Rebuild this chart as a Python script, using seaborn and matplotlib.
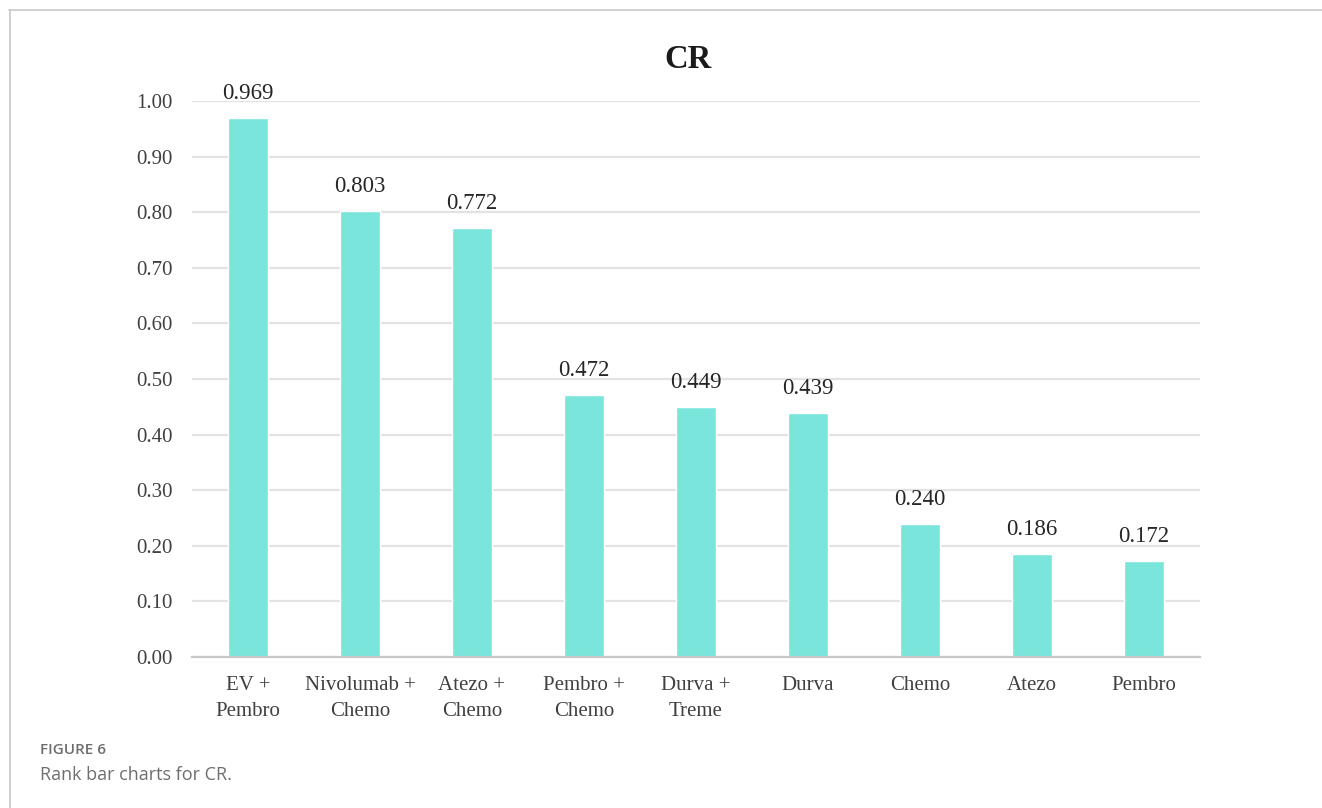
import matplotlib
matplotlib.use("Agg")
import matplotlib.pyplot as plt
import seaborn as sns
import pandas as pd
from matplotlib.lines import Line2D

# Treatment ranking values for complete response (CR)
treatments = ["EV +\nPembro", "Nivolumab +\nChemo", "Atezo +\nChemo", "Pembro +\nChemo",
              "Durva +\nTreme", "Durva", "Chemo", "Atezo", "Pembro"]
cr_values = [0.969, 0.803, 0.772, 0.472, 0.449, 0.439, 0.240, 0.186, 0.172]
y_ticks = [0.0, 0.1, 0.2, 0.3, 0.4, 0.5, 0.6, 0.7, 0.8, 0.9, 1.0]

df = pd.DataFrame({"treatment": treatments, "cr": cr_values})

sns.set_theme(style="white")
plt.rcParams["font.family"] = ["Liberation Serif", "DejaVu Serif"]

W, H = 1322, 808
fig = plt.figure(figsize=(W / 100, H / 100), dpi=100)
ax = fig.add_axes([192 / W, 1 - 657 / H, (1200 - 192) / W, (657 - 101) / H])

bar_color = "#7AE6DB"
sns.barplot(data=df, x="treatment", y="cr", color=bar_color, width=0.36,
            saturation=1, ax=ax, zorder=3)

ax.set_ylim(0, 1.0)
ax.set_xlim(-0.5, len(treatments) - 0.5)
ax.set_yticks(y_ticks)
ax.set_yticklabels([f"{v:.2f}" for v in y_ticks])
ax.yaxis.grid(True, color="#E3E3E3", linewidth=1.6, zorder=0)
ax.set_axisbelow(True)
ax.set_xlabel("")
ax.set_ylabel("")
for side in ["top", "right", "left"]:
    ax.spines[side].set_visible(False)
ax.spines["bottom"].set_color("#C8C8C8")
ax.spines["bottom"].set_linewidth(1.6)
ax.spines["bottom"].set_zorder(4)
ax.tick_params(axis="both", length=0, labelcolor="#404040")
ax.tick_params(axis="y", pad=14, labelsize=15)
ax.tick_params(axis="x", pad=14, labelsize=15)
for lbl in ax.get_xticklabels():
    lbl.set_linespacing(1.5)

# value labels above each bar
for container in ax.containers:
    ax.bar_label(container, labels=[f"{v:.3f}" for v in cr_values],
                 padding=10, fontsize=16.5, color="#262626")

fig.text(688 / W, 1 - 59 / H, "CR", ha="center", va="center",
         fontsize=23.5, fontweight="bold", color="#1a1a1a")

# panel frame (top and left edges)
fig.add_artist(Line2D([9 / W, 1], [1 - 9.5 / H, 1 - 9.5 / H], color="#C8C8C8", linewidth=1.2))
fig.add_artist(Line2D([9.5 / W, 9.5 / W], [0, 1 - 9.5 / H], color="#C8C8C8", linewidth=1.2))

# caption
fig.text(40 / W, 1 - 750 / H, "FIGURE 6", ha="left", va="center",
         fontsize=11, color="#6E6E6E", family="Open Sans", fontweight="semibold")
fig.text(40 / W, 1 - 775 / H, "Rank bar charts for CR.", ha="left", va="center",
         fontsize=13, color="#6E6E6E", family="Open Sans")

fig.savefig("out.png", dpi=100, facecolor="white")
